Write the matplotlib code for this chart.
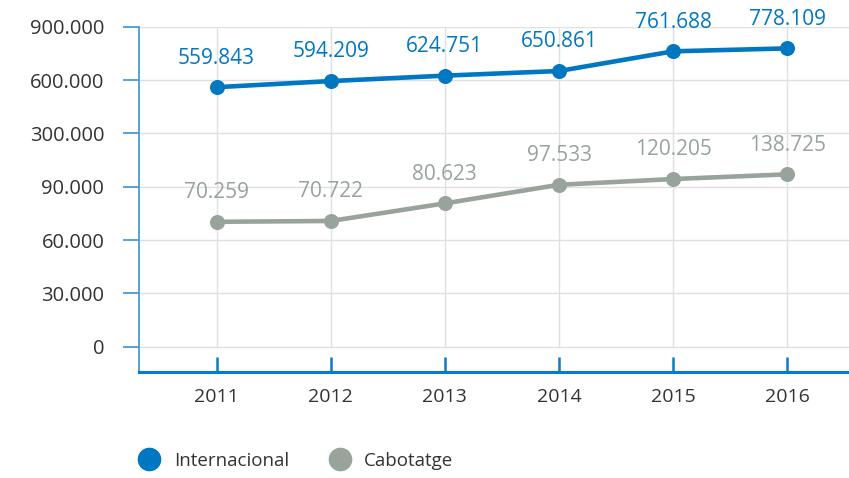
import numpy as np
import matplotlib
matplotlib.use("Agg")
import matplotlib.pyplot as plt
from matplotlib.lines import Line2D
from matplotlib.ticker import FuncFormatter

# ---- data ----
years = [2011, 2012, 2013, 2014, 2015, 2016]
internacional = [559843, 594209, 624751, 650861, 761688, 778109]
cabotatge = [70259, 70722, 80623, 97533, 120205, 138725]
series_names = ["Internacional", "Cabotatge"]
y_ticks = [0, 30000, 60000, 90000, 300000, 600000, 900000]

# ---- style ----
C_INT = "#0077c1"
C_CAB = "#97a39b"
C_TXT = "#333333"
C_AX = "#0a7bc2"
C_AXL = "#4a9ad6"
C_GRID = "#e0e0e0"
FONT = ["Open Sans", "DejaVu Sans"]
plt.rcParams["font.family"] = FONT

# piecewise-linear scale through the (unevenly spaced) tick values
tick_pos = np.arange(len(y_ticks), dtype=float)
step0 = y_ticks[1] - y_ticks[0]

def fwd(v):
    v = np.asarray(v, dtype=float)
    return np.where(v < 0, v / step0, np.interp(v, y_ticks, tick_pos))

def inv(u):
    u = np.asarray(u, dtype=float)
    return np.where(u < 0, u * step0, np.interp(u, tick_pos, y_ticks))

fig = plt.figure(figsize=(8.49, 4.78), dpi=100)
ax = fig.add_axes([0.1637, 0.2224, 0.8363, 0.7217])
ax.set_yscale("function", functions=(fwd, inv))

ax.set_xlim(years[0] - 0.679, years[-1] + 0.54)
ax.set_ylim(-0.469 * step0, y_ticks[-1])

# grid
for t in y_ticks:
    ax.axhline(t, color=C_GRID, lw=1.0, zorder=0)
ax.vlines(years, y_ticks[0], y_ticks[-1], color=C_GRID, lw=1.0, zorder=0)

# lines
ax.plot(years, internacional, color=C_INT, lw=3.3, marker="o", ms=9.8,
        solid_capstyle="round", zorder=3)
ax.plot(years, cabotatge, color=C_CAB, lw=3.3, marker="o", ms=9.8,
        solid_capstyle="round", zorder=3)

def fmt(v):
    return f"{v:,.0f}".replace(",", ".")

for x, v in zip(years, internacional):
    ax.annotate(fmt(v), (x, v), xytext=(0, 21), textcoords="offset points",
                ha="center", va="center", fontsize=15, color=C_INT)
for x, v in zip(years, cabotatge):
    ax.annotate(fmt(v), (x, v), xytext=(0, 21), textcoords="offset points",
                ha="center", va="center", fontsize=15, color=C_CAB)

# axes styling
for s in ["top", "right"]:
    ax.spines[s].set_visible(False)
ax.spines["left"].set_color(C_AXL)
ax.spines["left"].set_linewidth(1.3)
ax.spines["bottom"].set_color(C_AX)
ax.spines["bottom"].set_linewidth(2.2)

ax.set_yticks(y_ticks)
ax.yaxis.set_major_formatter(FuncFormatter(lambda v, p: fmt(v)))
ax.yaxis.set_minor_locator(matplotlib.ticker.NullLocator())
ax.tick_params(axis="y", length=11.5, width=1.3, color=C_AXL, pad=13.5,
               labelsize=14.5, labelcolor=C_TXT)
ax.set_xticks(years)
ax.set_xticklabels([str(y) for y in years])
ax.tick_params(axis="x", direction="in", length=11, width=1.8, color=C_AX,
               pad=12, labelsize=14, labelcolor=C_TXT)

# legend
handles = [Line2D([], [], ls="", marker="o", ms=16, color=C_INT),
           Line2D([], [], ls="", marker="o", ms=16, color=C_CAB)]
fig.legend(handles, series_names, loc="center left",
           bbox_to_anchor=(0.165, 0.036), ncol=2, frameon=False,
           handlelength=1.0, handletextpad=0.8, columnspacing=2.2,
           borderpad=0, borderaxespad=0, fontsize=13.5, labelcolor=C_TXT)

fig.savefig("out.png", dpi=100)
